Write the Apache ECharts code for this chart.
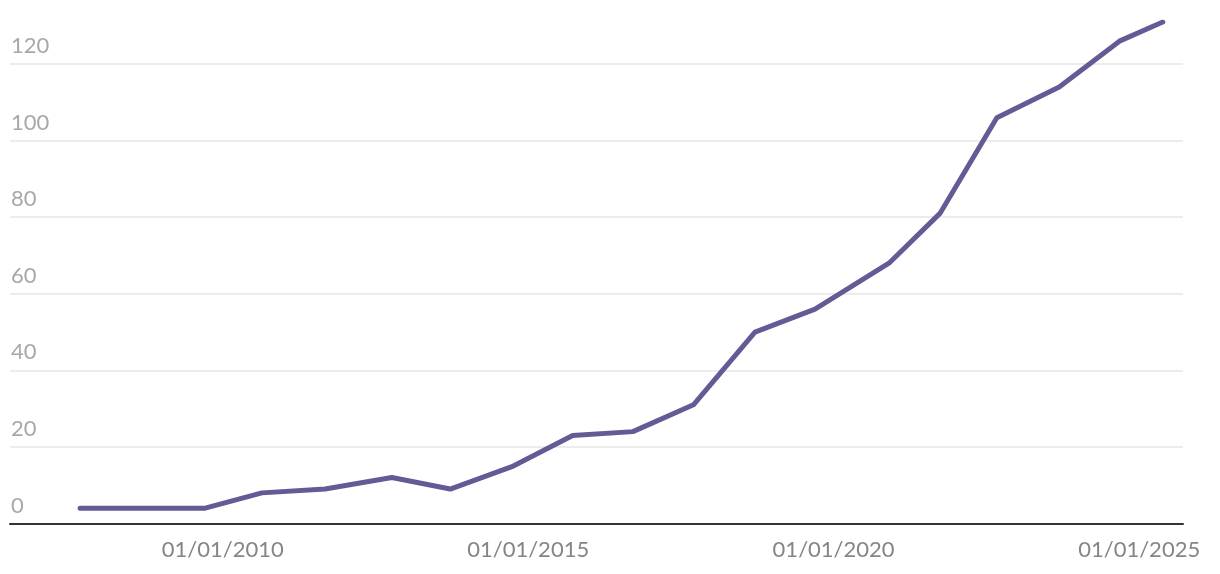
<!DOCTYPE html>
<html>
<head>
<meta charset="utf-8">
<script src="https://cdn.jsdelivr.net/npm/echarts@6/dist/echarts.min.js"></script>
<style>
html,body{margin:0;padding:0;background:#fff;}
#chart{width:1220px;height:574px;}
</style>
</head>
<body>
<div id="chart"></div>
<script>
const dates = ['2007-09-01','2009-09-18','2010-08-23','2011-09-05','2012-10-08','2013-09-22','2014-10-04','2015-09-24','2016-09-18','2017-09-15','2018-09-18','2019-09-12','2020-11-27','2021-09-28','2022-09-03','2023-09-11','2024-09-05','2025-05-22'];
const values = [4, 4, 8, 9, 12, 9, 15, 23, 24, 31, 50, 56, 68, 81, 106, 114, 126, 131];
const xTicks = ['2010-01-01','2015-01-01','2020-01-01','2025-01-01'];
const yTicks = [0, 20, 40, 60, 80, 100, 120];

const ts = d => Date.UTC(+d.slice(0, 4), +d.slice(5, 7) - 1, +d.slice(8, 10));

const chart = echarts.init(document.getElementById('chart'), null, {renderer: 'canvas'});
const fontFamily = 'Lato, "Liberation Sans", sans-serif';
chart.setOption({
  animation: false,
  grid: {left: 10, right: 37, top: 22, bottom: 50.5, containLabel: false},
  xAxis: {
    type: 'value',
    min: ts('2006-07-09'),
    max: ts('2025-09-20'),
    axisLine: {show: true, onZero: false, lineStyle: {color: '#333', width: 2}},
    axisTick: {show: false},
    splitLine: {show: false},
    axisLabel: {
      customValues: xTicks.map(ts),
      formatter: function (v) {
        const d = new Date(v);
        const p = n => (n < 10 ? '0' : '') + n;
        return p(d.getUTCDate()) + '/' + p(d.getUTCMonth() + 1) + '/' + d.getUTCFullYear();
      },
      color: '#858585',
      fontSize: 22,
      fontWeight: 400,
      fontFamily: fontFamily,
      margin: 15
    }
  },
  yAxis: {
    type: 'value',
    min: yTicks[0],
    max: 131,
    interval: 20,
    axisLine: {show: false},
    axisTick: {show: false},
    splitLine: {showMaxLine: false, lineStyle: {color: '#e6e6e6', width: 1.5}},
    axisLabel: {
      customValues: yTicks,
      inside: true,
      margin: 1,
      align: 'left',
      verticalAlign: 'bottom',
      lineHeight: 22,
      padding: [0, 0, 7, 0],
      color: '#a8a8a8',
      fontSize: 22,
      fontWeight: 400,
      fontFamily: fontFamily
    }
  },
  series: [{
    type: 'line',
    data: dates.map((d, i) => [ts(d), values[i]]),
    showSymbol: false,
    symbol: 'none',
    lineStyle: {color: '#645a96', width: 5, cap: 'round', join: 'round'},
    z: 5
  }]
});
</script>
</body>
</html>
